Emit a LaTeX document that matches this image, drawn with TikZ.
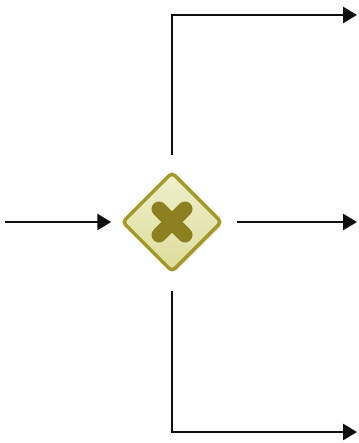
\documentclass[tikz,border=0pt]{standalone}
\usepackage{xcolor}
\usepackage{tikz}
\usetikzlibrary{shapes.geometric, arrows.meta, positioning, calc, shadows}
\definecolor{gwborder}{RGB}{165,152,40}
\definecolor{gwlight}{RGB}{240,240,205}
\definecolor{gwdark}{RGB}{220,220,155}
\definecolor{gwmark}{RGB}{140,128,32}
\definecolor{mydark}{RGB}{15,15,15}
\tikzset{
  gateway/.style={diamond, draw=gwborder, top color=gwlight, bottom color=gwdark,
    minimum width=100pt, minimum height=100pt, inner sep=0pt, line width=3.5pt,
    rounded corners=4pt,
    drop shadow={opacity=0.18, shadow xshift=2pt, shadow yshift=-2pt}},
  xmark/.style={line width=15pt, line cap=round, color=gwmark},
  arrow/.style={-{Triangle[length=14pt, width=16pt]}, line width=2.6pt, color=mydark}
}

\begin{document}
\begin{tikzpicture}[x=1pt, y=-1pt]
  \useasboundingbox (0,0) rectangle (358,443);

  % Nodes
  \node[gateway] (gw) at (172,222) {};
  \coordinate (in) at (5,222);
  \coordinate (out_top) at (357,15);
  \coordinate (out_mid) at (357,222);
  \coordinate (out_bot) at (357,432);

  % Cross
  \draw[xmark] ($(gw.center)+(-13,-13)$) -- ($(gw.center)+(13,13)$);
  \draw[xmark] ($(gw.center)+(-13,13)$) -- ($(gw.center)+(13,-13)$);

  % Arrows
  \draw[arrow, shorten >=9pt] (in) -- (gw.west);
  \draw[arrow, shorten <=15pt] (gw.north) |- (out_top);
  \draw[arrow, shorten <=13pt] (gw.east) -- (out_mid);
  \draw[arrow, shorten <=17pt] (gw.south) |- (out_bot);
\end{tikzpicture}
\end{document}
